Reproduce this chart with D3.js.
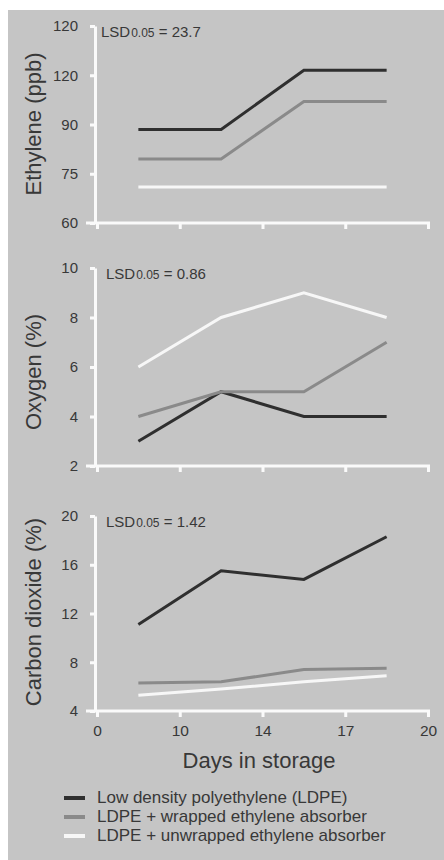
<!DOCTYPE html>
<html>
<head>
<meta charset="utf-8">
<script src="https://cdn.jsdelivr.net/npm/d3@7"></script>
<style>
  body { margin: 0; background: #fff; }
  svg { display: block; font-family: "Liberation Sans", Arial, sans-serif; }
</style>
</head>
<body>
<div id="chart"></div>
<script>
//~~~~~~~~~~~~~~~~~~~~~~~~~~~~~~~~~~~~
// Data
//~~~~~~~~~~~~~~~~~~~~~~~~~~~~~~~~~~~~
const xTickValues = [0, 10, 14, 17, 20];
const sampleDays = [5, 12, 15.5, 18.5];

const seriesNames = [
    "Low density polyethylene (LDPE)",
    "LDPE + wrapped ethylene absorber",
    "LDPE + unwrapped ethylene absorber"
];
const seriesColors = ["#2f2f2f", "#8a8a8a", "#f7f7f7"];

// ethylene (ppb)
const ethyleneTicks = [60, 75, 90, 120, 150];
const ethyleneTickLabels = ["60", "75", "90", "120", "120"];
const ethyleneLDPE = [88.5, 88.5, 123, 123];
const ethyleneWrapped = [79.5, 79.5, 104, 104];
const ethyleneUnwrapped = [71, 71, 71, 71];

// oxygen (%)
const oxygenTicks = [2, 4, 6, 8, 10];
const oxygenLDPE = [3, 5, 4, 4];
const oxygenWrapped = [4, 5, 5, 7];
const oxygenUnwrapped = [6, 8, 9, 8];

// carbon dioxide (%)
const co2Ticks = [4, 8, 12, 16, 20];
const co2LDPE = [11.1, 15.5, 14.8, 18.3];
const co2Wrapped = [6.3, 6.4, 7.4, 7.5];
const co2Unwrapped = [5.3, 5.8, 6.4, 6.9];

//~~~~~~~~~~~~~~~~~~~~~~~~~~~~~~~~~~~~
// Panels
//~~~~~~~~~~~~~~~~~~~~~~~~~~~~~~~~~~~~
const panels = [
    { title: "Ethylene (ppb)", ticks: ethyleneTicks, labels: ethyleneTickLabels,
      lsd: "23.7", top: 26, bottom: 223, titleY: 124,
      series: [ethyleneLDPE, ethyleneWrapped, ethyleneUnwrapped] },
    { title: "Oxygen (%)", ticks: oxygenTicks, labels: oxygenTicks.map(String),
      lsd: "0.86", top: 268, bottom: 466, titleY: 372,
      series: [oxygenLDPE, oxygenWrapped, oxygenUnwrapped] },
    { title: "Carbon dioxide (%)", ticks: co2Ticks, labels: co2Ticks.map(String),
      lsd: "1.42", top: 516, bottom: 711, titleY: 612,
      series: [co2LDPE, co2Wrapped, co2Unwrapped] }
];

const width = 444;
const height = 860;
const textColor = "#383838";
const axisColor = "#fafafa";

const svg = d3.select("#chart")
    .append("svg")
    .attr("width", width)
    .attr("height", height);

// scanned grey page
svg.append("rect")
    .attr("x", 8)
    .attr("y", 10)
    .attr("width", width - 8)
    .attr("height", height - 10)
    .attr("fill", "#c5c5c5");

// categorical-looking day axis: evenly spaced ticks
const xLeft = 97, xRight = 428;
const x = d3.scaleLinear()
    .domain(xTickValues)
    .range(xTickValues.map((d, i) => xLeft + i * (xRight - xLeft) / (xTickValues.length - 1)));

const line = d3.line();

panels.forEach((p, pi) => {
    const y = d3.scaleLinear()
        .domain(p.ticks)
        .range(p.ticks.map((d, i) => p.bottom - i * (p.bottom - p.top) / (p.ticks.length - 1)));

    const g = svg.append("g");

    // y axis
    const yAxis = g.append("g")
        .attr("transform", `translate(${xLeft - 2},0)`)
        .call(d3.axisLeft(y)
            .tickValues(p.ticks)
            .tickFormat((d, i) => p.labels[i])
            .tickSize(5)
            .tickSizeOuter(0)
            .tickPadding(12));
    yAxis.select(".domain")
        .attr("stroke", axisColor)
        .attr("stroke-width", 3);
    yAxis.selectAll(".tick line")
        .attr("stroke", axisColor)
        .attr("stroke-width", 3);
    yAxis.selectAll(".tick text")
        .attr("fill", textColor)
        .style("font-size", "15px");

    // x axis
    const xAxis = g.append("g")
        .attr("transform", `translate(0,${p.bottom})`)
        .call(d3.axisBottom(x)
            .tickValues(xTickValues)
            .tickFormat(pi === panels.length - 1 ? d3.format("d") : "")
            .tickSize(6)
            .tickSizeOuter(0)
            .tickPadding(8));
    xAxis.select(".domain").remove();
    xAxis.insert("line", ":first-child")
        .attr("x1", xLeft - 11)
        .attr("x2", xRight + 2)
        .attr("stroke", axisColor)
        .attr("stroke-width", 3);
    xAxis.selectAll(".tick line")
        .attr("stroke", axisColor)
        .attr("stroke-width", 3);
    xAxis.selectAll(".tick text")
        .attr("fill", textColor)
        .style("font-size", "15.5px");

    // axis title
    g.append("text")
        .attr("transform", `translate(41,${p.titleY}) rotate(-90)`)
        .attr("text-anchor", "middle")
        .attr("fill", textColor)
        .style("font-size", "22px")
        .text(p.title);

    // LSD label
    const lsd = g.append("text")
        .attr("x", xLeft + 6 + (pi === 0 ? -2 : 3))
        .attr("y", p.top + 11)
        .attr("fill", textColor)
        .style("font-size", "15px");
    lsd.append("tspan").text("LSD");
    lsd.append("tspan").style("font-size", "12px").attr("dx", 1).text("0.05");
    lsd.append("tspan").text(" = " + p.lsd);

    // series lines
    p.series.forEach((vals, si) => {
        g.append("path")
            .attr("d", line(vals.map((v, i) => [x(sampleDays[i]), y(v)])))
            .attr("fill", "none")
            .attr("stroke", seriesColors[si])
            .attr("stroke-width", 3)
            .attr("stroke-linejoin", "miter");
    });
});

// x axis title
svg.append("text")
    .attr("x", 259)
    .attr("y", 768)
    .attr("text-anchor", "middle")
    .attr("fill", textColor)
    .style("font-size", "22px")
    .text("Days in storage");

//~~~~~~~~~~~~~~~~~~~~~~~~~~~~~~~~~~~~
// Legend
//~~~~~~~~~~~~~~~~~~~~~~~~~~~~~~~~~~~~
const legend = svg.append("g")
    .selectAll("g")
    .data(seriesNames)
    .join("g")
    .attr("transform", (d, i) => `translate(0,${803 + i * 19})`);

legend.append("line")
    .attr("x1", 64)
    .attr("x2", 85)
    .attr("y1", -5)
    .attr("y2", -5)
    .attr("stroke", (d, i) => seriesColors[i])
    .attr("stroke-width", 4);

legend.append("text")
    .attr("x", 97)
    .attr("fill", textColor)
    .style("font-size", "17px")
    .text(d => d);
</script>
</body>
</html>
